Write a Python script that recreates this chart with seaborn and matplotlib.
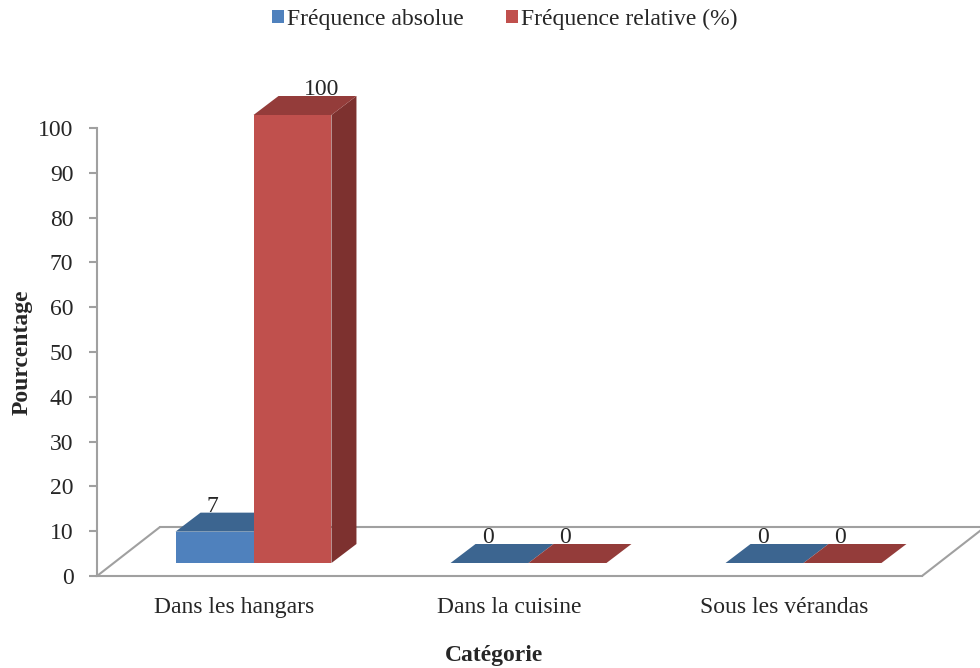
import pandas as pd
import seaborn as sns
import matplotlib.pyplot as plt
from matplotlib.patches import Polygon
from matplotlib.transforms import ScaledTranslation, IdentityTransform

categories = ["Dans les hangars", "Dans la cuisine", "Sous les vérandas"]
series = ["Fréquence absolue", "Fréquence relative (%)"]
freq_abs = [7, 0, 0]
freq_rel = [100, 0, 0]

front_colors = ["#4F81BD", "#C0504D"]
top_colors = ["#3C6590", "#943C3A"]
side_colors = ["#2F5078", "#7D312F"]

df = pd.DataFrame({
    "Catégorie": categories * 2,
    "valeur": freq_abs + freq_rel,
    "série": [series[0]] * 3 + [series[1]] * 3,
})

sns.set_style("white")
plt.rcParams['font.family'] = ['Liberation Serif', 'DejaVu Serif']

W, H = 980, 668
FS = 17
fig = plt.figure(figsize=(W / 100, H / 100), dpi=100)
ax = fig.add_axes([97 / W, 92 / H, 825 / W, 448 / H])

sns.barplot(data=df, x="Catégorie", y="valeur", hue="série", palette=front_colors,
            width=0.567, saturation=1, linewidth=0, ax=ax, zorder=3)
ax.set_ylim(0, 100)
ax.set_xlim(-0.5, 2.5)
ax.set_yticks(range(0, 101, 10))

# depth offsets in pixels
floor_dx, floor_dy = 63, 49
bar_fx, bar_fy = 19, 13
bar_dx, bar_dy = 25, 19

def px(dx, dy):
    return ScaledTranslation(dx / 100, dy / 100, fig.dpi_scale_trans)

# floor
grey = "#A0A0A0"
ax.plot([-0.5, 2.5], [0, 0], color=grey, lw=1.5, transform=ax.transData + px(floor_dx, floor_dy),
        clip_on=False, zorder=1)
for xe in [-0.5, 2.5]:
    p0 = ax.transData.transform((xe, 0))
    ax.plot([p0[0], p0[0] + floor_dx], [p0[1], p0[1] + floor_dy], color=grey, lw=1.5,
            transform=IdentityTransform(), clip_on=False, zorder=1)

# 3D faces for bars
vals = [freq_abs, freq_rel]
bars = [p for p in ax.patches if p.get_width() > 0]
for i, s in enumerate(series):
    for j in range(len(categories)):
        patch = bars[i * len(categories) + j]
        patch.set_transform(ax.transData + px(bar_fx, bar_fy))
        patch.set_clip_on(False)
        patch.set_zorder(3)
        x0, x1 = patch.get_x(), patch.get_x() + patch.get_width()
        h = patch.get_height()
        (ax0, ay0), (ax1, ay1) = ax.transData.transform([(x0, h), (x1, 0)])
        ax0 += bar_fx; ax1 += bar_fx; ay0 += bar_fy; ay1 += bar_fy
        top = [(ax0, ay0), (ax1, ay0), (ax1 + bar_dx, ay0 + bar_dy), (ax0 + bar_dx, ay0 + bar_dy)]
        ax.add_patch(Polygon(top, closed=True, facecolor=top_colors[i], lw=0,
                             transform=IdentityTransform(), clip_on=False, zorder=2.5))
        if h > 0:
            side = [(ax1, ay1), (ax1, ay0), (ax1 + bar_dx, ay0 + bar_dy), (ax1 + bar_dx, ay1 + bar_dy)]
            ax.add_patch(Polygon(side, closed=True, facecolor=side_colors[i], lw=0,
                                 transform=IdentityTransform(), clip_on=False, zorder=2))
        v = vals[i][j]
        xoff = 29 if v == max(freq_rel) else -2
        ax.text((ax0 + ax1) / 2 + xoff, ay0 + bar_dy - 4, str(v), ha="center", va="bottom",
                fontsize=FS, transform=IdentityTransform(), zorder=5)

for name in ["top", "right"]:
    ax.spines[name].set_visible(False)
for name in ["left", "bottom"]:
    ax.spines[name].set_color(grey)
    ax.spines[name].set_linewidth(1.5)

ax.set_xticks([0, 1, 2])
ax.set_xticks([-0.5, 0.5, 1.5, 2.5], minor=True)
ax.tick_params(axis="x", which="major", length=0, pad=15, labelsize=FS)
ax.tick_params(axis="x", which="minor", length=6, width=1.5, color=grey, direction="out")
ax.tick_params(axis="y", length=6, width=1.5, color=grey, direction="out", pad=11, labelsize=FS)
ax.tick_params(bottom=True, left=True)

ax.set_xlabel("")
ax.set_ylabel("Pourcentage", fontsize=FS, fontweight="bold")
ax.yaxis.set_label_coords((33 - 97) / 825, 0.5)
fig.text(494 / W, 1 - 655 / H, "Catégorie", ha="center", va="center", fontsize=FS, fontweight="bold")

handles, labels = ax.get_legend_handles_labels()
ax.legend(handles, labels, loc="center", bbox_to_anchor=(505 / W, 1 - 19 / H),
          bbox_transform=fig.transFigure, ncol=2, frameon=False, fontsize=FS,
          handlelength=0.48, handleheight=0.48, handletextpad=0.15, columnspacing=1.8)
ax.grid(False)

fig.savefig("out.png", dpi=100)
